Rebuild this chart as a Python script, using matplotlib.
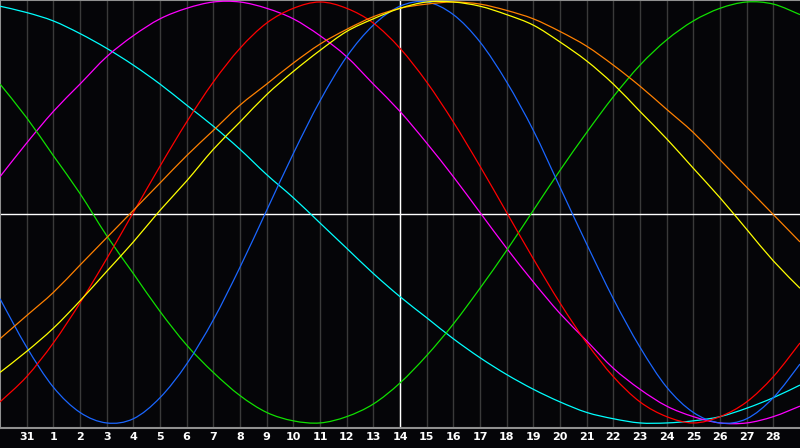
import matplotlib
matplotlib.use("Agg")
from matplotlib import pyplot as plt
from matplotlib.path import Path
from matplotlib.patches import PathPatch

# day slots across the chart (0..30), labels shown under slots 1..29
slots = list(range(31))
day_labels = ["31"] + [str(d) for d in range(1, 29)]
today_slot = 15

# curve values, one per day slot (-1 .. 1)
blue = [-0.41, -0.64, -0.83, -0.95, -1.00, -0.98, -0.88, -0.72, -0.51, -0.26,
        0.01, 0.28, 0.53, 0.74, 0.89, 0.98, 1.00, 0.94, 0.81, 0.62,
        0.39, 0.12, -0.15, -0.41, -0.64, -0.83, -0.95, -1.00, -0.98, -0.88, -0.72]
green = [0.61, 0.45, 0.27, 0.09, -0.11, -0.29, -0.47, -0.63, -0.76, -0.87,
         -0.95, -0.99, -1.00, -0.97, -0.91, -0.81, -0.68, -0.53, -0.36, -0.18,
         0.01, 0.20, 0.38, 0.55, 0.70, 0.82, 0.91, 0.97, 1.00, 0.99, 0.94]
red = [-0.90, -0.78, -0.62, -0.43, -0.22, 0.00, 0.22, 0.43, 0.62, 0.78,
       0.90, 0.97, 1.00, 0.97, 0.90, 0.78, 0.62, 0.43, 0.22, 0.00,
       -0.22, -0.43, -0.62, -0.78, -0.90, -0.97, -1.00, -0.97, -0.90, -0.78, -0.62]
magenta = [0.17, 0.33, 0.48, 0.61, 0.74, 0.84, 0.92, 0.97, 1.00, 1.00,
           0.97, 0.92, 0.84, 0.74, 0.61, 0.48, 0.33, 0.17, 0.00, -0.17,
           -0.33, -0.48, -0.61, -0.74, -0.84, -0.92, -0.97, -1.00, -1.00, -0.97, -0.92]
cyan = [0.98, 0.95, 0.91, 0.85, 0.78, 0.70, 0.61, 0.51, 0.41, 0.30,
        0.18, 0.07, -0.05, -0.17, -0.29, -0.40, -0.50, -0.60, -0.69, -0.77,
        -0.84, -0.90, -0.95, -0.98, -1.00, -1.00, -0.99, -0.97, -0.93, -0.88, -0.82]
orange = [-0.60, -0.49, -0.38, -0.25, -0.12, 0.01, 0.14, 0.27, 0.39, 0.51,
          0.61, 0.71, 0.80, 0.87, 0.93, 0.97, 0.99, 1.00, 0.99, 0.96,
          0.92, 0.86, 0.79, 0.70, 0.60, 0.49, 0.38, 0.25, 0.12, -0.01, -0.14]
yellow = [-0.76, -0.66, -0.55, -0.42, -0.28, -0.14, 0.01, 0.15, 0.30, 0.43,
          0.56, 0.67, 0.77, 0.86, 0.92, 0.97, 1.00, 1.00, 0.98, 0.94,
          0.89, 0.81, 0.72, 0.61, 0.48, 0.35, 0.21, 0.07, -0.08, -0.23, -0.36]


def smooth_path(xs, ys):
    # catmull-rom style bezier through the points, so the line is drawn smooth
    pts = list(zip(xs, ys))
    n = len(pts)
    verts = [pts[0]]
    codes = [Path.MOVETO]
    for k in range(n - 1):
        p0 = pts[k - 1] if k > 0 else pts[k]
        p1 = pts[k]
        p2 = pts[k + 1]
        p3 = pts[k + 2] if k + 2 < n else pts[k + 1]
        c1 = (p1[0] + (p2[0] - p0[0]) / 6, p1[1] + (p2[1] - p0[1]) / 6)
        c2 = (p2[0] - (p3[0] - p1[0]) / 6, p2[1] - (p3[1] - p1[1]) / 6)
        verts += [c1, c2, p2]
        codes += [Path.CURVE4] * 3
    return Path(verts, codes)


bg = "#050508"
fig = plt.figure(figsize=(8, 4.48), dpi=100, facecolor=bg)
ax = fig.add_axes([0, 20 / 448, 1, 428 / 448], facecolor=bg)

for s in slots[1:30]:
    ax.axvline(s, color="#3a3a3a", lw=1, zorder=1)
ax.axhline(-0.007, color="white", lw=1, zorder=2)
ax.axvline(today_slot, color="white", lw=1, zorder=2)

series = [
    (cyan, "#00ffff"),
    (magenta, "#ff00ff"),
    (green, "#10e000"),
    (blue, "#1a66ff"),
    (red, "#ff0000"),
    (orange, "#ff8000"),
    (yellow, "#ffff00"),
]
for values, col in series:
    ax.add_patch(PathPatch(smooth_path(slots, values), fill=False,
                           edgecolor=col, lw=0.9, zorder=3))

ax.set_xlim(0, 30)
ax.set_ylim(-1.024, 1.0095)
ax.set_xticks(slots[1:30])
ax.set_xticklabels(day_labels, color="white", fontsize=8, fontweight="bold",
                   family="DejaVu Sans")
ax.tick_params(axis="x", length=0, pad=3)
ax.set_yticks([])
for side in ("top", "left", "bottom"):
    ax.spines[side].set_color("#909090")
    ax.spines[side].set_linewidth(1.5)
ax.spines["right"].set_visible(False)

fig.savefig("out.png", dpi=100, facecolor=bg)
